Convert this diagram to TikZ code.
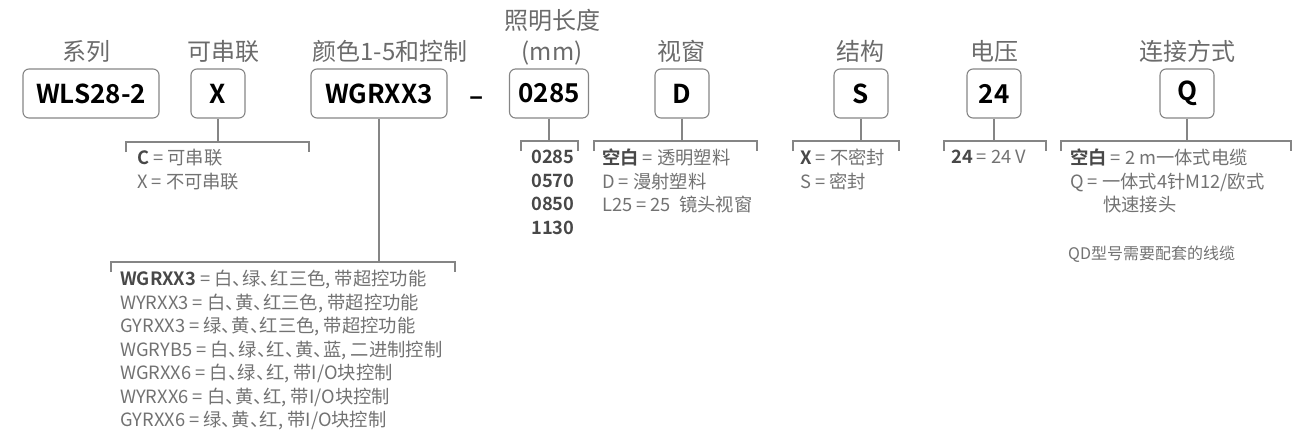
\documentclass[tikz,border=0pt]{standalone}
\usepackage{fontspec}
\setmainfont{Noto Sans CJK SC}[BoldFont={Noto Sans CJK SC Bold}]
\usetikzlibrary{positioning}
\definecolor{linegray}{HTML}{858585}
\definecolor{titlegray}{HTML}{6B6B6B}
\definecolor{descgray}{HTML}{727272}
\definecolor{keygray}{HTML}{484848}
\newcommand{\key}[1]{{\color{keygray}\bfseries #1}}
\newcommand{\dun}{、\kern-0.46em}
\tikzset{
  codebox/.style={draw=linegray, line width=1.1pt, rounded corners=6pt,
    minimum height=49pt, inner sep=0pt, text=black,
    font=\fontsize{26}{30}\selectfont\bfseries},
  title/.style={text=titlegray, inner sep=0pt, anchor=base,
    font=\fontsize{24}{28}\selectfont},
  desc/.style={text=descgray, inner sep=0pt, anchor=north west, align=left,
    font=\fontsize{18.3}{23.5}\selectfont},
  bracket/.style={draw=linegray, line width=1.1pt},
}
\begin{document}
\begin{tikzpicture}[x=1pt,y=-1pt]
\useasboundingbox (0,0) rectangle (1300,434);
% code boxes
\foreach \n/\x/\w/\t in {series/91/136/WLS28-2, chain/218/54/X,
    color/379/136/WGRXX3, length/549/79/0285, window/682/54/D,
    struct/861/54/S, volt/994/54/24, conn/1187/54/Q}{
  \node[codebox, minimum width=\w pt] (\n) at (\x,93.5) {\t};
}
\node[text=black, inner sep=0pt, font=\fontsize{26}{30}\selectfont\bfseries]
  (dash) at (477,101) {–};
% titles
\foreach \n/\x/\t in {series/86/系列, chain/223/可串联, color/390/颜色1-5和控制,
    length/552/(mm), window/681/视窗, struct/860/结构, volt/994/电压,
    conn/1187/连接方式}{
  \node[title] (t-\n) at (\x,60) {\t};
}
\node[title] (t-length2) at (552,29) {照明长度};
% stems and brackets
\foreach \n/\l/\r/\y in {chain/126/309/142, color/111/455/262,
    length/521/578/141, window/594/757/141, struct/793/899/141,
    volt/944/1046/141, conn/1061/1291/141}{
  \coordinate (\n-b) at (\n.south |- 0,\y);
  \draw[bracket] (\n.south) -- (\n-b);
  \draw[bracket] (\l,\y+10) -- (\l,\y) -- (\r,\y) -- (\r,\y+10);
}
% descriptions
\node[desc] (d-chain) at (137,149) {\key{C} = 可串联\\X = 不可串联};
\node[desc] (d-length) at (531,150) {\key{0285}\\\key{0570}\\\key{0850}\\\key{1130}};
\node[desc] (d-window) at (602,149) {\key{空白} = 透明塑料\\D = 漫射塑料\\L25 = 25 \ 镜头视窗};
\node[desc] (d-struct) at (800,149) {\key{X} = 不密封\\S = 密封};
\node[desc] (d-volt) at (951,150) {\key{24} = 24 V};
\node[desc] (d-conn) at (1070,149) {\key{空白} = 2 m一体式电缆\\Q = 一体式4针M12/欧式\\\hspace*{1.8em}快速接头};
\node[desc, anchor=base west, font=\fontsize{16}{18}\selectfont] (note) at (1068,259) {QD型号需要配套的线缆};
\node[desc] (d-color) at (120,270) {\key{WGRXX3} = 白\dun 绿\dun 红三色, 带超控功能\\
  WYRXX3 = 白\dun 黄\dun 红三色, 带超控功能\\
  GYRXX3 = 绿\dun 黄\dun 红三色, 带超控功能\\
  WGRYB5 = 白\dun 绿\dun 红\dun 黄\dun 蓝, 二进制控制\\
  WGRXX6 = 白\dun 绿\dun 红, 带I/O块控制\\
  WYRXX6 = 白\dun 黄\dun 红, 带I/O块控制\\
  GYRXX6 = 绿\dun 黄\dun 红, 带I/O块控制};
\end{tikzpicture}
\end{document}
